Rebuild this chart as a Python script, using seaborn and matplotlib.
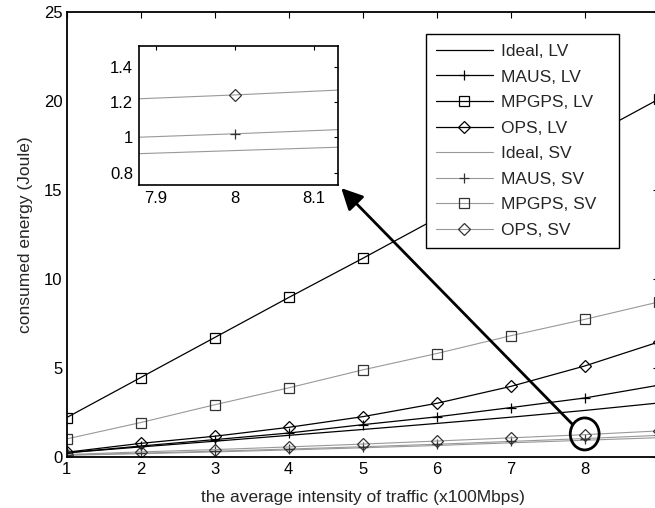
import matplotlib
matplotlib.use("Agg")
import matplotlib.pyplot as plt
import seaborn as sns
import pandas as pd
from matplotlib.patches import Ellipse

# ---------------- data ----------------
traffic = [1, 2, 3, 4, 5, 6, 7, 8, 9]
ideal_lv = [0.22, 0.55, 0.87, 1.20, 1.53, 1.87, 2.22, 2.60, 3.02]
maus_lv = [0.22, 0.60, 0.96, 1.33, 1.80, 2.24, 2.76, 3.30, 4.02]
mpgps_lv = [2.20, 4.45, 6.70, 8.95, 11.15, 13.40, 15.60, 17.85, 20.10]
ops_lv = [0.25, 0.75, 1.15, 1.65, 2.25, 3.00, 3.95, 5.10, 6.45]
ideal_sv = [0.08, 0.17, 0.27, 0.38, 0.50, 0.63, 0.78, 0.925, 1.07]
maus_sv = [0.10, 0.20, 0.31, 0.43, 0.56, 0.70, 0.86, 1.02, 1.20]
mpgps_sv = [1.00, 1.92, 2.92, 3.87, 4.88, 5.80, 6.80, 7.72, 8.70]
ops_sv = [0.12, 0.27, 0.40, 0.55, 0.71, 0.88, 1.06, 1.24, 1.45]

series_labels = ["Ideal, LV", "MAUS, LV", "MPGPS, LV", "OPS, LV",
                 "Ideal, SV", "MAUS, SV", "MPGPS, SV", "OPS, SV"]
series_values = [ideal_lv, maus_lv, mpgps_lv, ops_lv,
                 ideal_sv, maus_sv, mpgps_sv, ops_sv]

main_xticks = [1, 2, 3, 4, 5, 6, 7, 8]
main_yticks = [0, 5, 10, 15, 20, 25]
inset_xticks = [7.9, 8.0, 8.1]
inset_xticklabels = ["7.9", "8", "8.1"]
inset_yticks = [0.8, 1.0, 1.2, 1.4]
inset_yticklabels = ["0.8", "1", "1.2", "1.4"]

# ---------------- styles ----------------
markers = {"Ideal": None, "MAUS": "+", "MPGPS": "s", "OPS": "D"}
msizes = {"Ideal": 0, "MAUS": 7, "MPGPS": 7.8, "OPS": 6.4}

sns.set_style("white")
plt.rcParams["font.family"] = ["Liberation Sans", "DejaVu Sans"]
plt.rcParams["font.size"] = 12

fig = plt.figure(figsize=(6.55, 5.08), dpi=100)
W, H = 655.0, 508.0
ax = fig.add_axes([66.7 / W, (H - 456.7) / H, 592 / W, 444.7 / H])
axin = fig.add_axes([138.7 / W, (H - 185) / H, 199 / W, 139 / H])

df = pd.DataFrame({
    "traffic": traffic * len(series_labels),
    "energy": [v for vals in series_values for v in vals],
    "series": [lab for lab in series_labels for _ in traffic],
})


def draw(target, with_label):
    for lab in series_labels:
        method, veh = [s.strip() for s in lab.split(",")]
        sub = df[df["series"] == lab]
        lv = veh == "LV"
        kw = dict(color="black" if lv else "0.6",
                  linewidth=0.9 if lv else 0.8)
        if markers[method] is not None:
            kw.update(marker=markers[method], markersize=msizes[method],
                      markerfacecolor="none",
                      markeredgecolor="black" if lv else "0.2",
                      markeredgewidth=0.9)
        if with_label:
            kw["label"] = lab
        sns.lineplot(data=sub, x="traffic", y="energy", ax=target,
                     legend=False, errorbar=None, **kw)


draw(ax, True)
draw(axin, False)

# main axes
ax.set_xlim(1, 9)
ax.set_ylim(0, 25)
ax.set_xticks(main_xticks)
ax.set_yticks(main_yticks)
ax.set_xlabel("the average intensity of traffic (x100Mbps)", fontsize=12.5, labelpad=9)
ax.set_ylabel("consumed energy (Joule)", fontsize=12.5, labelpad=8)
ax.tick_params(axis="x", pad=4)
ax.tick_params(axis="y", pad=3)
ax.tick_params(direction="in", top=True, right=True, length=4, width=0.8,
               labelsize=12, colors="black")
for sp in ax.spines.values():
    sp.set_linewidth(1.3)
    sp.set_color("black")
    sp.set_visible(True)

leg_x0 = (426 - 66.7) / 592
leg_w = (618.7 - 426) / 592
leg_top = (456.7 - 34.3) / 444.7
leg = ax.legend(loc="upper left", bbox_to_anchor=(leg_x0, leg_top - 0.5, leg_w, 0.5),
                mode="expand", borderaxespad=0, fontsize=12.5, numpoints=1,
                handlelength=3.3, handletextpad=0.45, labelspacing=0.6,
                borderpad=0.55, fancybox=False, framealpha=1, edgecolor="black")
leg.get_frame().set_linewidth(1.0)
leg.set_zorder(10)

# inset axes
axin.set_xlim(7.878, 8.13)
axin.set_ylim(0.73, 1.517)
axin.set_xticks(inset_xticks)
axin.set_xticklabels(inset_xticklabels)
axin.set_yticks(inset_yticks)
axin.set_yticklabels(inset_yticklabels)
axin.set_xlabel("")
axin.set_ylabel("")
axin.tick_params(direction="in", top=True, right=True, length=3, width=0.8,
                 labelsize=12, pad=4, colors="black")
for sp in axin.spines.values():
    sp.set_linewidth(1.2)
    sp.set_color("black")
    sp.set_visible(True)

# circle around the zoomed point and arrow to the inset
ell = Ellipse((8.0, 1.28), width=0.39, height=1.8, fill=False,
              edgecolor="black", linewidth=2.0, zorder=6)
ax.add_patch(ell)
ax.annotate("", xy=(4.71, 15.1), xytext=(7.83, 1.84),
            arrowprops=dict(arrowstyle="-|>,head_length=0.5,head_width=0.25",
                            color="black", lw=2.0,
                            mutation_scale=26, shrinkA=0, shrinkB=0),
            zorder=7)

fig.savefig("out.png", dpi=100)
